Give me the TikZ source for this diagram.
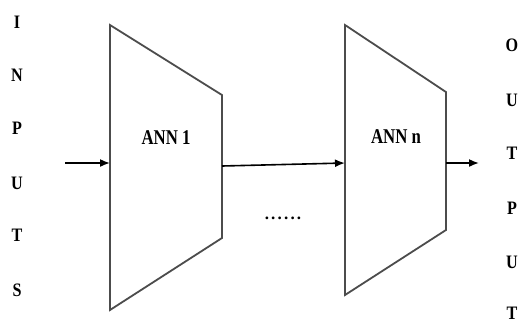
\documentclass[tikz,border=0pt]{standalone}
\usepackage{fontspec}
\setmainfont{Liberation Serif}
\usetikzlibrary{arrows.meta}
\begin{document}
\begin{tikzpicture}[x=1pt,y=-1pt,
  trap/.style={draw=black!70,line width=1.8pt,line join=miter},
  lbl/.style={font=\fontsize{21}{21}\selectfont\bfseries,inner sep=0pt,xscale=0.8},
  letter/.style={font=\fontsize{19}{19}\selectfont\bfseries,inner sep=0pt,xscale=0.85},
  arr/.style={line width=1.6pt,-{Latex[length=10pt,width=8pt]}}]
\useasboundingbox (0,0) rectangle (523,325);
% trapezoids
\draw[trap] (110,25) -- (222,95) -- (222,238) -- (110,310) -- cycle;
\draw[trap] (345,25) -- (446,92) -- (446,230) -- (345,295) -- cycle;
\coordinate (a1in) at (110,163);
\coordinate (a1out) at (222,166);
\coordinate (a2in) at (345,163);
\coordinate (a2out) at (446,163);
\coordinate (src) at (65,163);
\coordinate (dst) at (479,163);
\node[lbl] (ann1) at (166,138) {ANN 1};
\node[lbl] (annn) at (396,137) {ANN n};
\node[font=\fontsize{17}{17}\selectfont\bfseries,inner sep=0pt] (dots) at (283,218) {.\kern2.2pt.\kern2.2pt.\kern2.2pt.\kern2.2pt.\kern2.2pt.};
\draw[arr] (src) -- (a1in);
\draw[arr] (a1out) -- (a2in);
\draw[arr] (a2out) -- (dst);
% INPUTS
\node[letter] (i1) at (17,22) {I};
\node[letter] (i2) at (17,75) {N};
\node[letter] (i3) at (17,128) {P};
\node[letter] (i4) at (17,183) {U};
\node[letter] (i5) at (17,235) {T};
\node[letter] (i6) at (17,290) {S};
% OUTPUT
\node[letter] (o1) at (512,45) {O};
\node[letter] (o2) at (512,100) {U};
\node[letter] (o3) at (512,153) {T};
\node[letter] (o4) at (512,208) {P};
\node[letter] (o5) at (512,262) {U};
\node[letter] (o6) at (512,313) {T};
\end{tikzpicture}
\end{document}
